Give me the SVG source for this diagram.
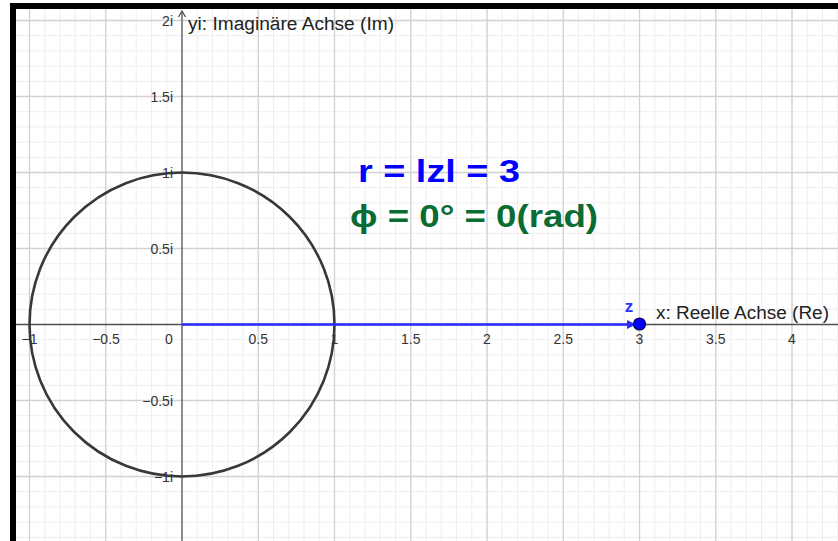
<svg xmlns="http://www.w3.org/2000/svg" width="838" height="541" viewBox="0 0 838 541">
<style>
.minor{stroke:#eeeeee;stroke-width:1;fill:none}
.major{stroke:#d2d2d2;stroke-width:1.3;fill:none}
.axis{stroke:#505050;stroke-width:1.3;fill:none}
.tick{font-family:"Liberation Sans",Arial,sans-serif;font-size:14px;fill:#333333}
.tx{text-anchor:middle}
.ty{text-anchor:end}
.alabel{font-family:"Liberation Sans",Arial,sans-serif;font-size:18px;fill:#222222}
.big{font-family:"Liberation Sans",Arial,sans-serif;font-size:32px;font-weight:bold}
</style>
<defs>
<marker id="vhead" viewBox="0 0 10 10" refX="10" refY="5" markerWidth="18" markerHeight="9" markerUnits="userSpaceOnUse" orient="auto">
<path d="M0,0 L10,5 L0,10 Z" fill="#2a2aff"/>
</marker>
</defs>
<rect x="0" y="0" width="838" height="541" fill="#ffffff"/>
<g id="grid">
<path class="minor" d="M29.5 9V541M44.75 9V541M60 9V541M75.25 9V541M90.5 9V541M105.75 9V541M121 9V541M136.25 9V541M151.5 9V541M166.75 9V541M197.25 9V541M212.5 9V541M227.75 9V541M243 9V541M258.25 9V541M273.5 9V541M288.75 9V541M304 9V541M319.25 9V541M334.5 9V541M349.75 9V541M365 9V541M380.25 9V541M395.5 9V541M410.75 9V541M426 9V541M441.25 9V541M456.5 9V541M471.75 9V541M487 9V541M502.25 9V541M517.5 9V541M532.75 9V541M548 9V541M563.25 9V541M578.5 9V541M593.75 9V541M609 9V541M624.25 9V541M639.5 9V541M654.75 9V541M670 9V541M685.25 9V541M700.5 9V541M715.75 9V541M731 9V541M746.25 9V541M761.5 9V541M776.75 9V541M792 9V541M807.25 9V541M822.5 9V541M837.75 9V541"/>
<path class="minor" d="M16 20.5H838M16 35.7H838M16 50.9H838M16 66.1H838M16 81.3H838M16 96.5H838M16 111.7H838M16 126.9H838M16 142.1H838M16 157.3H838M16 172.5H838M16 187.7H838M16 202.9H838M16 218.1H838M16 233.3H838M16 248.5H838M16 263.7H838M16 278.9H838M16 294.1H838M16 309.3H838M16 339.7H838M16 354.9H838M16 370.1H838M16 385.3H838M16 400.5H838M16 415.7H838M16 430.9H838M16 446.1H838M16 461.3H838M16 476.5H838M16 491.7H838M16 506.9H838M16 522.1H838M16 537.3H838"/>
<path class="major" d="M29.5 9V541M105.75 9V541M258.25 9V541M334.5 9V541M410.75 9V541M487 9V541M563.25 9V541M639.5 9V541M715.75 9V541M792 9V541"/>
<path class="major" d="M16 20.5H838M16 96.5H838M16 172.5H838M16 248.5H838M16 400.5H838M16 476.5H838"/>
</g>
<g id="axes">
<path class="axis" d="M16 324.5H838"/>
<path class="axis" d="M182 541V11"/>
<path class="axis" d="M178.5 17L182 11L185.5 17"/>
</g>
<g id="tick-labels">
<text class="tick tx" x="29.5" y="344">−1</text>
<text class="tick tx" x="106" y="344">−0.5</text>
<text class="tick tx" x="169" y="344">0</text>
<text class="tick tx" x="258.25" y="344">0.5</text>
<text class="tick tx" x="334.5" y="344">1</text>
<text class="tick tx" x="410.75" y="344">1.5</text>
<text class="tick tx" x="487" y="344">2</text>
<text class="tick tx" x="563.25" y="344">2.5</text>
<text class="tick tx" x="639.5" y="344">3</text>
<text class="tick tx" x="715.75" y="344">3.5</text>
<text class="tick tx" x="792" y="344">4</text>
<text class="tick ty" x="173" y="25.5">2i</text>
<text class="tick ty" x="173" y="101.5">1.5i</text>
<text class="tick ty" x="173" y="177.5">1i</text>
<text class="tick ty" x="173" y="253.5">0.5i</text>
<text class="tick ty" x="173" y="405.5">−0.5i</text>
<text class="tick ty" x="173" y="481.5">−1i</text>
</g>
<g id="axis-labels">
<text id="y-axis-label" class="alabel" x="188" y="29.5" textLength="206" lengthAdjust="spacingAndGlyphs">yi: Imaginäre Achse (Im)</text>
<text id="x-axis-label" class="alabel" x="656" y="318.5" textLength="173" lengthAdjust="spacingAndGlyphs">x: Reelle Achse (Re)</text>
</g>
<g id="unit-circle">
<ellipse cx="182" cy="324.5" rx="152.5" ry="152" fill="none" stroke="#383838" stroke-width="2.6"/>
</g>
<g id="connectors">
<path d="M182 324.5H636" stroke="#2a2aff" stroke-width="2.6" fill="none" marker-end="url(#vhead)"/>
</g>
<g id="point-z">
<circle cx="639.5" cy="324" r="6" fill="#0000ff" stroke="#000044" stroke-width="1.2"/>
<text x="629" y="312" text-anchor="middle" font-family="Liberation Sans,Arial,sans-serif" font-size="17" font-weight="bold" fill="#3030ff">z</text>
</g>
<g id="formula">
<text class="big" x="358" y="182" fill="#0000ff" textLength="162" lengthAdjust="spacingAndGlyphs">r = lzl = 3</text>
<text class="big" x="350" y="227" fill="#0a6b33" textLength="248" lengthAdjust="spacingAndGlyphs">ϕ = 0° = 0(rad)</text>
</g>
<g id="frame">
<rect x="10" y="3" width="828" height="6" fill="#000000"/>
<rect x="10" y="3" width="6" height="538" fill="#000000"/>
</g>
</svg>
